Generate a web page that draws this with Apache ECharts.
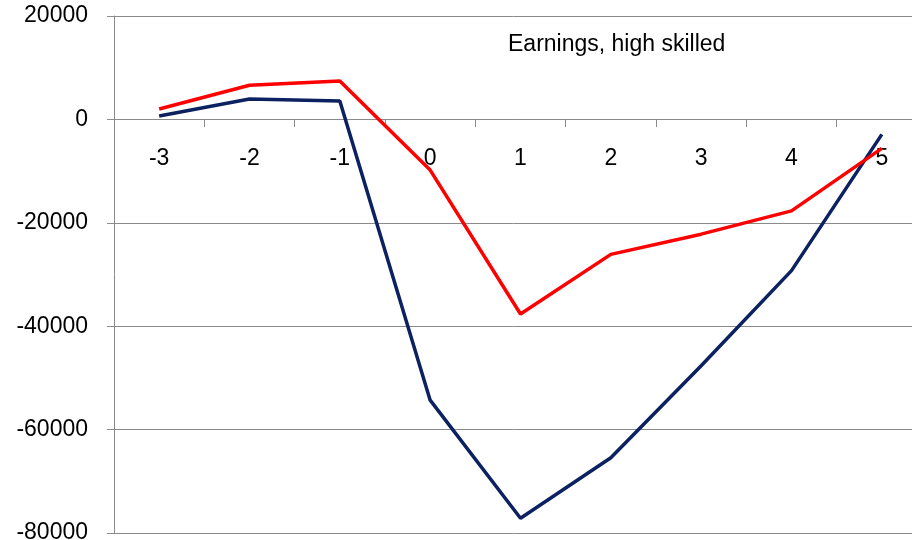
<!DOCTYPE html>
<html>
<head>
<meta charset="utf-8">
<script src="https://cdn.jsdelivr.net/npm/echarts@6/dist/echarts.min.js"></script>
<style>
  html, body { margin: 0; padding: 0; background: #fff; }
  #chart { width: 912px; height: 540px; }
</style>
</head>
<body>
<div id="chart"></div>
<script>
// years relative to the event
var years = ['-3', '-2', '-1', '0', '1', '2', '3', '4', '5'];
// red line
var redValues = [2000, 6600, 7450, -9800, -37650, -26100, -22200, -17700, -5600];
// navy line
var navyValues = [650, 3950, 3550, -54300, -77150, -65450, -47650, -29250, -2900];
var yTicks = { min: -80000, max: 20000, interval: 20000 };

var chart = echarts.init(document.getElementById('chart'));
var font = 'Liberation Sans';
var gridTop = 16, gridBottom = 7;
// move the x axis up to the zero line (grid height 517px, 0 sits 1/5 down)
var zeroOffset = Math.round((540 - gridTop - gridBottom) * 0.8);

var option = {
    animation: false,
    title: {
        text: 'Earnings, high skilled',
        left: 503,
        top: 28,
        textStyle: { fontFamily: font, fontSize: 23, fontWeight: 'normal', color: '#000' }
    },
    grid: { left: 114, right: -15, top: gridTop, bottom: gridBottom, containLabel: false, outerBoundsMode: 'none' },
    xAxis: {
        type: 'category',
        data: years,
        boundaryGap: true,
        position: 'bottom',
        offset: -zeroOffset,
        axisLine: { onZero: false, lineStyle: { color: '#8a8a8a', width: 1 } },
        axisTick: { show: true, length: 8, lineStyle: { color: '#8a8a8a' } },
        axisLabel: { margin: 28, fontFamily: font, fontSize: 23, color: '#000' },
        splitLine: { show: false }
    },
    yAxis: {
        type: 'value',
        min: yTicks.min,
        max: yTicks.max,
        interval: yTicks.interval,
        axisLine: { show: true, lineStyle: { color: '#8a8a8a', width: 1 } },
        axisTick: { show: true, length: 7, lineStyle: { color: '#8a8a8a' } },
        axisLabel: {
            margin: 26, fontFamily: font, fontSize: 23, color: '#000',
            formatter: function (v) { return String(v); }
        },
        splitLine: { show: true, lineStyle: { color: '#8a8a8a', width: 1 } }
    },
    series: [
        {
            name: 'navy',
            type: 'line',
            data: navyValues,
            symbol: 'none',
            lineStyle: { color: '#0b2160', width: 3.5 },
            z: 2
        },
        {
            name: 'red',
            type: 'line',
            data: redValues,
            symbol: 'none',
            lineStyle: { color: '#ff0000', width: 3.5 },
            z: 3
        }
    ]
};
chart.setOption(option);
</script>
</body>
</html>
